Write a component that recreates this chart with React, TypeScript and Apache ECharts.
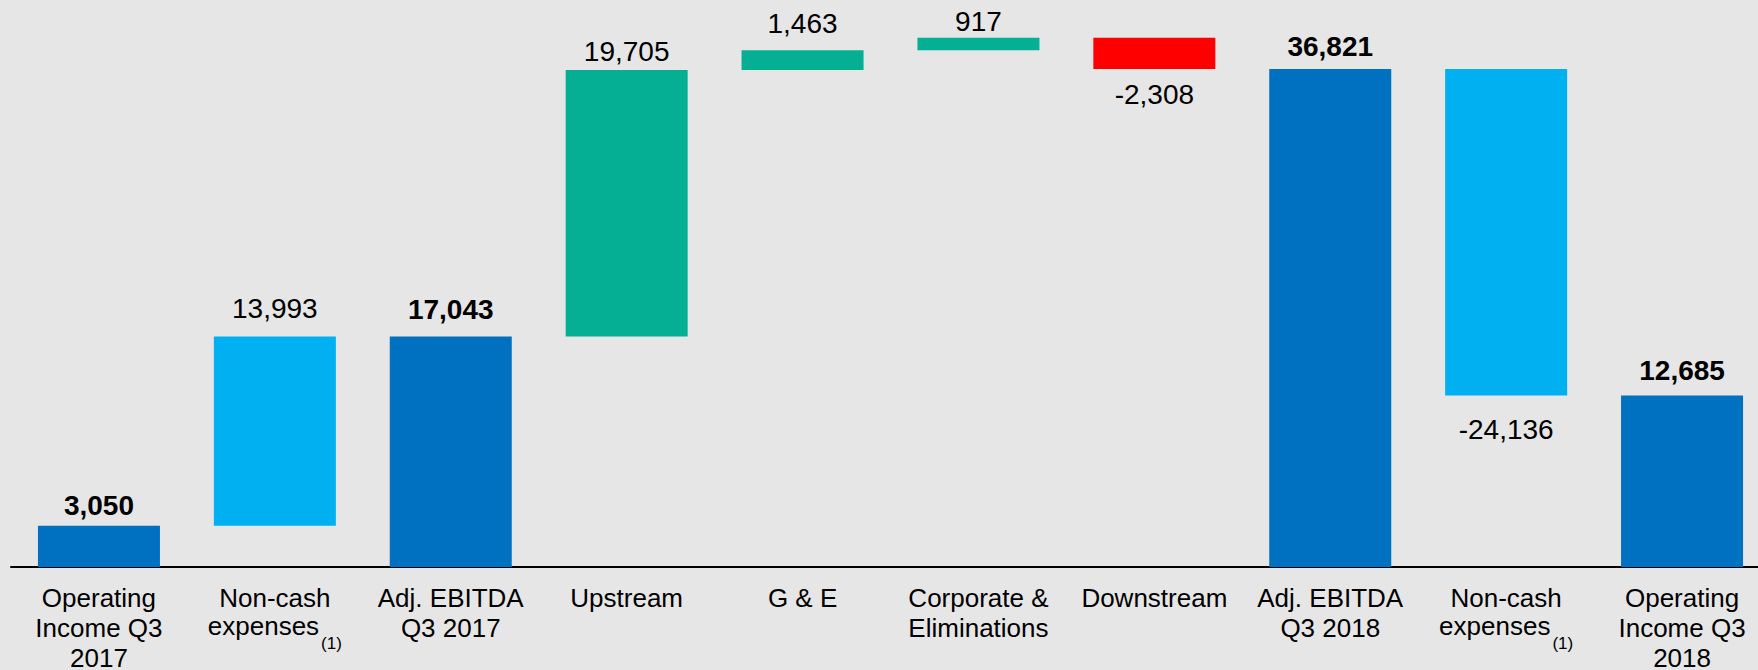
import React, { useEffect, useRef } from "react";
import * as echarts from "echarts";

const categories = [
  "Operating\nIncome Q3\n2017",
  "Non-cash\nexpenses(1)",
  "Adj. EBITDA\nQ3 2017",
  "Upstream",
  "G & E",
  "Corporate &\nEliminations",
  "Downstream",
  "Adj. EBITDA\nQ3 2018",
  "Non-cash\nexpenses(1)",
  "Operating\nIncome Q3\n2018",
];
const values = [3050, 13993, 17043, 19705, 1463, 917, -2308, 36821, -24136, 12685];
const kinds = ["total", "delta", "total", "delta", "delta", "delta", "delta", "total", "delta", "total"];
const barColors = ["#0070C0", "#00B0F0", "#0070C0", "#05AF93", "#05AF93", "#05AF93", "#FF0000", "#0070C0", "#00B0F0", "#0070C0"];
const labelGaps = [6, 14, 13, 4, 13, 2, 11, 8, 20, 11];

const FONT = '"Liberation Sans", Arial, sans-serif';

function fmt(v: number) {
  const s = Math.abs(v).toLocaleString("en-US");
  return v < 0 ? "-" + s : s;
}

export default function App() {
  const ref = useRef<HTMLDivElement>(null);
  useEffect(() => {
    document.body.style.margin = "0";
    const chart = echarts.init(ref.current!, undefined, { renderer: "svg" });
    const bases: any[] = [];
    const bars: any[] = [];
    let running = 0;
    values.forEach((v, i) => {
      let base = 0;
      let h = 0;
      if (kinds[i] === "total") {
        base = 0;
        h = v;
        running = v;
      } else if (v >= 0) {
        base = running;
        h = v;
        running += v;
      } else {
        base = running + v;
        h = -v;
        running += v;
      }
      bases.push(base);
      const isTotal = kinds[i] === "total";
      bars.push({
        value: h,
        itemStyle: { color: barColors[i] },
        label: {
          show: true,
          position: v < 0 ? "bottom" : "top",
          distance: labelGaps[i],
          formatter: fmt(v),
          fontSize: 28,
          fontWeight: isTotal ? "bold" : "normal",
          color: "#000",
          fontFamily: FONT,
        },
      });
    });

    chart.setOption({
      animation: false,
      backgroundColor: "#E6E6E6",
      grid: {
        left: 11,
        width: 1759,
        top: 26,
        height: 541,
        containLabel: false,
        outerBoundsMode: "none",
      },
      xAxis: {
        type: "category",
        data: categories,
        axisLine: { show: true, lineStyle: { color: "#000", width: 2 } },
        axisTick: { show: false },
        axisLabel: {
          interval: 0,
          margin: 16,
          color: "#000",
          fontSize: 26,
          lineHeight: 30,
          fontFamily: FONT,
          hideOverlap: false,
          formatter: (val: string) =>
            val.replace(/(\S+)\(1\)/, "{m|$1}{s|(1)}"),
          rich: {
            m: { fontSize: 26, lineHeight: 30, verticalAlign: "top", color: "#000", fontFamily: FONT },
            s: { fontSize: 17, lineHeight: 17, padding: [22, 0, 0, 2], verticalAlign: "top", color: "#000", fontFamily: FONT },
          },
        },
      },
      yAxis: {
        type: "value",
        min: 0,
        max: 40000,
        show: false,
        splitLine: { show: false },
      },
      series: [
        {
          type: "bar",
          stack: "wf",
          data: bases,
          barWidth: 122,
          itemStyle: { color: "transparent" },
          silent: true,
        },
        {
          type: "bar",
          stack: "wf",
          data: bars,
          barWidth: 122,
        },
      ],
    });
    return () => chart.dispose();
  }, []);
  return <div ref={ref} style={{ width: 1758, height: 670 }} />;
}
